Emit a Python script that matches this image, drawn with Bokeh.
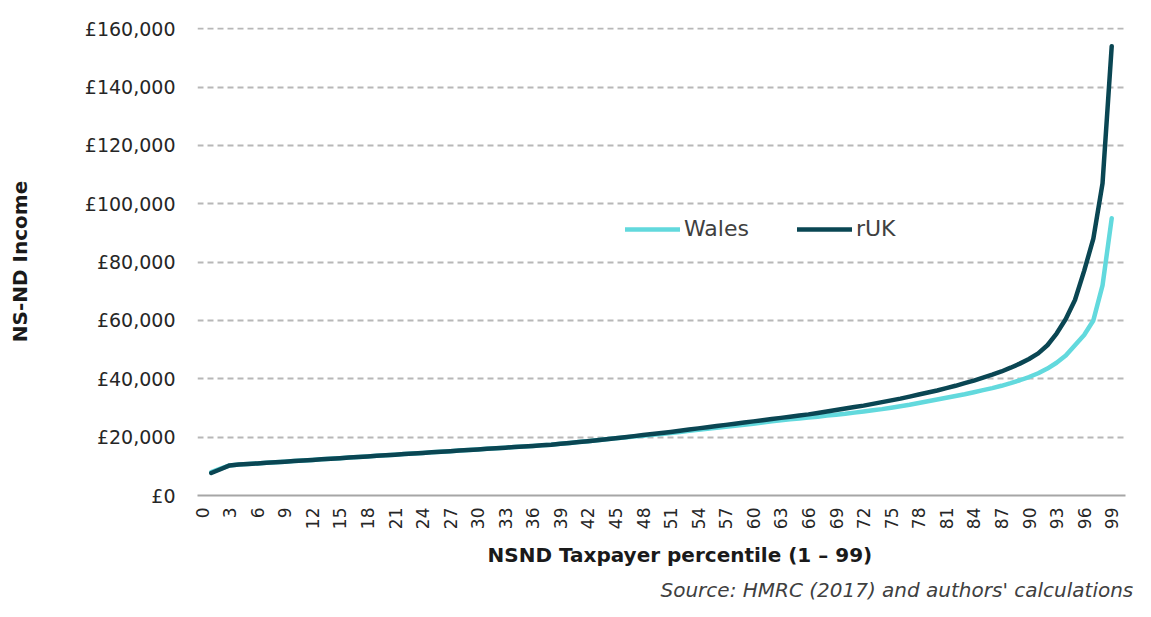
from bokeh.plotting import figure
from bokeh.models import FixedTicker, Legend, LegendItem, Title
from bokeh.embed import file_html
from bokeh.resources import INLINE
import math

percentile = list(range(1, 100))

ruk = [7700, 9000, 10300, 10600, 10800, 11000, 11200, 11400, 11600, 11800,
       12000, 12200, 12400, 12600, 12800, 13000, 13200, 13400, 13600, 13800,
       14000, 14200, 14400, 14600, 14800, 15000, 15200, 15400, 15600, 15800,
       16000, 16200, 16400, 16600, 16800, 17000, 17200, 17400, 17700, 18000,
       18300, 18600, 18950, 19300, 19650, 20000, 20350, 20700, 21050, 21400,
       21800, 22200, 22600, 23000, 23400, 23800, 24200, 24600, 25000, 25400,
       25800, 26200, 26600, 27000, 27400, 27800, 28300, 28800, 29300, 29800,
       30300, 30800, 31400, 32000, 32600, 33200, 33900, 34600, 35300, 36000,
       36800, 37600, 38500, 39400, 40400, 41400, 42500, 43800, 45200, 46800,
       48700, 51500, 55500, 60500, 67000, 77000, 88000, 107000, 154000]

wales = [8000, 9200, 10300, 10600, 10800, 11000, 11200, 11400, 11600, 11800,
         12000, 12200, 12400, 12600, 12800, 13000, 13200, 13400, 13600, 13800,
         14000, 14200, 14400, 14600, 14800, 15000, 15200, 15400, 15600, 15800,
         16000, 16200, 16400, 16600, 16800, 17000, 17200, 17400, 17700, 18000,
         18300, 18600, 18950, 19300, 19600, 19900, 20200, 20500, 20800, 21100,
         21450, 21800, 22150, 22500, 22850, 23200, 23550, 23900, 24250, 24600,
         25000, 25400, 25800, 26100, 26400, 26700, 27000, 27400, 27700, 28000,
         28400, 28800, 29200, 29600, 30100, 30600, 31100, 31700, 32300, 32900,
         33500, 34100, 34700, 35400, 36100, 36800, 37600, 38500, 39500, 40600,
         41900, 43500, 45500, 48000, 51500, 55000, 60000, 72000, 95000]

series_names = ["Wales", "rUK"]
x_tick_values = list(range(0, 100, 3))
x_tick_labels = [str(v) for v in x_tick_values]
y_tick_values = [0, 20000, 40000, 60000, 80000, 100000, 120000, 140000, 160000]
y_tick_labels = ["£0", "£20,000", "£40,000", "£60,000", "£80,000",
                 "£100,000", "£120,000", "£140,000", "£160,000"]
x_title = "NSND Taxpayer percentile (1 – 99)"
y_title = "NS-ND Income"
source_text = "Source: HMRC (2017) and authors' calculations"

FONT = "DejaVu Sans"
WALES_C = "#62d9dd"
RUK_C = "#0a4653"

p = figure(width=1135, height=601, x_range=(-0.5, 100.5), y_range=(0, 160400),
           output_backend="svg", toolbar_location=None,
           min_border_left=197, min_border_right=10, min_border_top=27,
           min_border_bottom=106)
p.outline_line_color = None
p.background_fill_color = "white"

r_w = p.line(percentile, wales, line_color=WALES_C, line_width=4.5, line_join="round", line_cap="round")
r_r = p.line(percentile, ruk, line_color=RUK_C, line_width=4.5, line_join="round", line_cap="round")

# grid
p.xgrid.grid_line_color = None
p.ygrid.ticker = FixedTicker(ticks=y_tick_values)
p.ygrid.grid_line_color = "#b8b8b8"
p.ygrid.grid_line_width = 2
p.ygrid.grid_line_dash = "6 4"

# y axis
p.yaxis.ticker = FixedTicker(ticks=y_tick_values)
p.yaxis.major_label_overrides = {v: l for v, l in zip(y_tick_values, y_tick_labels)}
p.yaxis.axis_line_color = None
p.yaxis.major_tick_line_color = None
p.yaxis.minor_tick_line_color = None
p.yaxis.major_tick_out = 0
p.yaxis.major_label_standoff = 22
p.yaxis.major_label_text_font = FONT
p.yaxis.major_label_text_font_size = "19px"
p.yaxis.major_label_text_color = "#262626"
p.yaxis.axis_label = y_title
p.yaxis.axis_label_standoff = 50
p.yaxis.axis_label_text_font = FONT
p.yaxis.axis_label_text_font_size = "20px"
p.yaxis.axis_label_text_font_style = "bold"
p.yaxis.axis_label_text_color = "#1a1a1a"

# x axis
p.xaxis.ticker = FixedTicker(ticks=x_tick_values)
p.xaxis.major_label_overrides = {v: l for v, l in zip(x_tick_values, x_tick_labels)}
p.xaxis.major_label_orientation = math.pi / 2
p.xaxis.axis_line_color = "#a6a6a6"
p.xaxis.axis_line_width = 2
p.xaxis.major_tick_line_color = None
p.xaxis.minor_tick_line_color = None
p.xaxis.major_tick_out = 0
p.xaxis.major_label_standoff = 12
p.xaxis.major_label_text_font = FONT
p.xaxis.major_label_text_font_size = "17px"
p.xaxis.major_label_text_color = "#262626"

# x-axis title and source note as titles below the frame
p.add_layout(Title(text=x_title, align="left", offset=290, standoff=17,
                   text_font=FONT, text_font_size="20px", text_font_style="bold",
                   text_color="#1a1a1a"), "below")
p.add_layout(Title(text=source_text, align="left", offset=463, standoff=0,
                   text_font=FONT, text_font_size="20px", text_font_style="italic",
                   text_color="#404040"), "below")

legend = Legend(items=[LegendItem(label=series_names[0], renderers=[r_w]),
                       LegendItem(label=series_names[1], renderers=[r_r])],
                orientation="horizontal", location=(428, 254),
                border_line_color=None, background_fill_alpha=0,
                padding=0, margin=0, glyph_width=55, glyph_height=24,
                label_standoff=4, spacing=48,
                label_text_font=FONT, label_text_font_size="22px",
                label_text_color="#404040")
p.add_layout(legend)

open("out.html", "w").write(file_html(p, INLINE))
